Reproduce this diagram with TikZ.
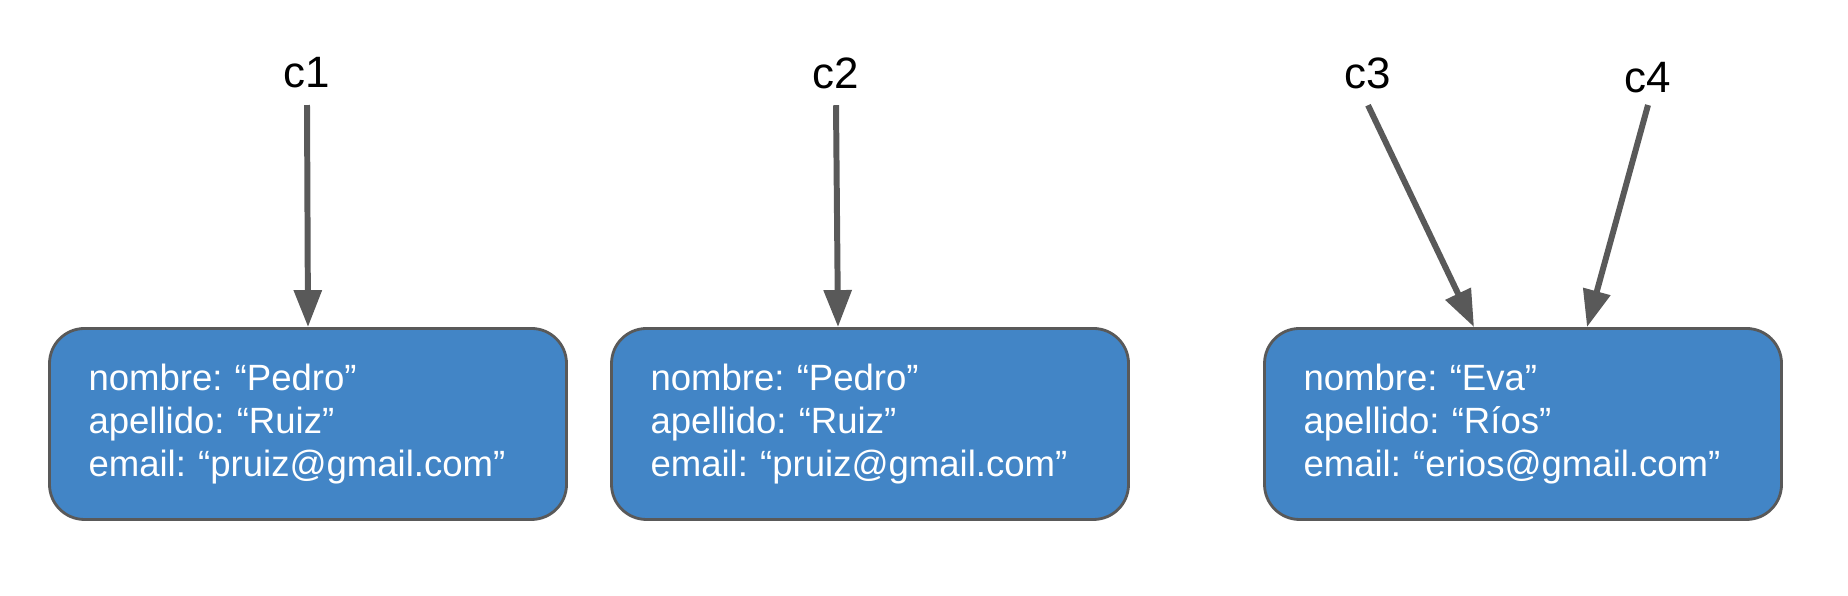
\documentclass[tikz,border=0pt]{standalone}
\usepackage{fontspec}
\setmainfont{Liberation Sans}
\usetikzlibrary{arrows.meta}
\frenchspacing

\definecolor{recordblue}{HTML}{4285C6}
\definecolor{pointergray}{HTML}{595959}

\tikzset{
    record/.style={draw=pointergray, line width=0.8pt, fill=recordblue, rounded corners=0.35cm,
        minimum width=5.17cm, minimum height=1.91cm, inner xsep=0.39cm, text width=4.39cm,
        align=left, text=white, font=\fontsize{10.4}{12.3}\selectfont},
    varname/.style={inner sep=0.16cm, font=\fontsize{12.5}{14}\selectfont},
    pointer/.style={draw=pointergray, line width=1.7pt, -{Triangle[length=3.7mm,width=2.7mm]}}
}

\begin{document}
\begin{tikzpicture}
    \useasboundingbox (0,0) rectangle (18.48,5.96);

    % Draw the records
    \node[record] (box1) at (3.08,1.72) {nombre: “Pedro”\\apellido: “Ruiz”\\email: “pruiz@gmail.com”};
    \node[record] (box2) at (8.70,1.72) {nombre: “Pedro”\\apellido: “Ruiz”\\email: “pruiz@gmail.com”};
    \node[record] (box3) at (15.23,1.72) {nombre: “Eva”\\apellido: “Ríos”\\email: “erios@gmail.com”};

    % Variable names
    \node[varname] (c1) at (3.07,5.23) {c1};
    \node[varname] (c2) at (8.36,5.23) {c2};
    \node[varname] (c3) at (13.68,5.23) {c3};
    \node[varname, inner ysep=0.11cm] (c4) at (16.48,5.18) {c4};

    \coordinate (t2) at ([xshift=-3.2mm]box2.north);
    \coordinate (t3) at ([xshift=-4.9mm]box3.north);
    \coordinate (t4) at ([xshift=6.4mm]box3.north);

    % References
    \draw[pointer] (c1.south) -- (box1.north);
    \draw[pointer] (c2.south) -- (t2);
    \draw[pointer] (c3.south) -- (t3);
    \draw[pointer] (c4.south) -- (t4);
\end{tikzpicture}
\end{document}
